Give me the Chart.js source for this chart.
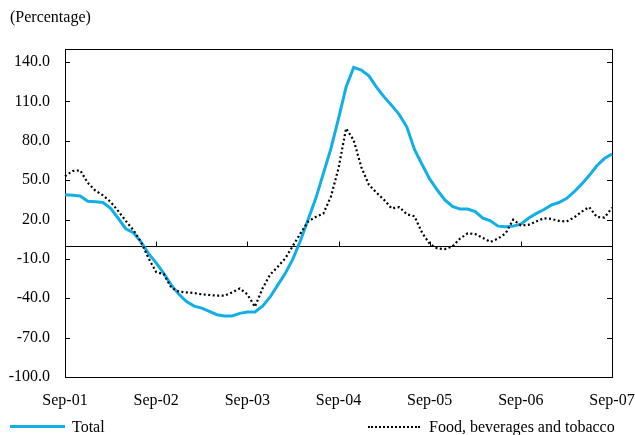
<!DOCTYPE html>
<html>
<head>
<meta charset="utf-8">
<script src="https://cdn.jsdelivr.net/npm/chart.js@4.4.1/dist/chart.umd.min.js"></script>
<style>
  body { margin: 0; background: #fff; }
  #wrap { position: relative; width: 635px; height: 435px; font-family: "Liberation Serif", "Times New Roman", serif; color: #000; }
  #title { position: absolute; left: 10px; top: 8px; font-size: 16px; line-height: 18px; }
  .swatch { position: absolute; }
  .lbl { position: absolute; font-size: 16px; line-height: 18px; top: 418px; white-space: nowrap; }
</style>
</head>
<body>
<div id="wrap">
  <canvas id="chart" width="635" height="435"></canvas>
  <div id="title">(Percentage)</div>
  <div class="swatch" style="left:10px; top:425px; width:55px; height:3px; background:#12AEE8;"></div>
  <div class="lbl" style="left:72px;">Total</div>
  <div class="swatch" style="left:368px; top:426px; width:52px; height:0; border-top:2px dotted #000;"></div>
  <div class="lbl" style="left:429px;">Food, beverages and tobacco</div>
</div>
<script>
// month labels Sep-01 .. Sep-07
const monthNames = ["Jan", "Feb", "Mar", "Apr", "May", "Jun", "Jul", "Aug", "Sep", "Oct", "Nov", "Dec"];
const categories = [];
for (let i = 0; i < 73; i++) {
  const m = (8 + i) % 12;
  const yr = 1 + Math.floor((8 + i) / 12);
  categories.push(monthNames[m] + "-" + String(yr).padStart(2, "0"));
}

const xTickLabels = ["Sep-01", "Sep-02", "Sep-03", "Sep-04", "Sep-05", "Sep-06", "Sep-07"];
const yTicks = [-100, -70, -40, -10, 20, 50, 80, 110, 140];

const totalValues = [
  39, 38.5, 38, 34, 33.5, 33, 28.5, 21, 13, 10, 3, -6,
  -13, -21, -30, -37, -42.5, -46, -47.5, -50, -52.5, -53.5, -53.5, -51.5,
  -50.5, -50.5, -46, -39, -30, -21, -10, 4, 20, 36, 55, 74,
  97, 121, 136, 134, 129.5, 121, 113.5, 107, 100, 90.5, 73.5, 62,
  51, 42.5, 35, 30, 28, 28, 26, 21, 19, 15, 14.5, 15,
  16.5, 21, 24.5, 27.5, 31, 33, 36, 41, 47, 53.5, 61, 66.5,
  70
];

const foodValues = [
  53, 57, 57.5, 48, 42, 38.5, 33.5, 26.5, 19, 12, 3, -9.5,
  -20, -21.5, -32, -35, -35.5, -36, -37, -37.5, -38, -38, -35.5, -32.5,
  -37, -46.5, -32.5, -22, -16, -9.5, 0, 9.5, 18.5, 22, 24.5, 37.5,
  59, 89.5, 80.5, 60, 46.5, 40.5, 35, 28.5, 29.5, 24, 22.5, 10,
  1.5, -2, -2.5, -0.5, 5.5, 9.5, 9, 6, 3, 5.5, 9.5, 20,
  15.5, 16, 18.5, 21, 20.5, 19, 18.5, 21.5, 26, 29.5, 22, 21.5,
  29
];

// box, zero line and small inward ticks
const framePlugin = {
  id: "frame",
  beforeDatasetsDraw(chart) {
    const { ctx, chartArea: a, scales } = chart;
    const y0 = Math.round(scales.y.getPixelForValue(0)) + 0.5;
    ctx.save();
    ctx.lineWidth = 1;
    ctx.strokeStyle = "#000";
    ctx.strokeRect(Math.round(a.left) + 0.5, Math.round(a.top) + 0.5,
      Math.round(a.right - a.left), Math.round(a.bottom - a.top));
    ctx.beginPath();
    ctx.moveTo(a.left, y0);
    ctx.lineTo(a.right, y0);
    yTicks.forEach((v) => {
      const py = Math.round(scales.y.getPixelForValue(v)) + 0.5;
      ctx.moveTo(a.left, py);
      ctx.lineTo(a.left + 5, py);
      ctx.moveTo(a.right - 5, py);
      ctx.lineTo(a.right, py);
    });
    xTickLabels.forEach((lbl) => {
      const px = Math.round(scales.x.getPixelForValue(categories.indexOf(lbl))) + 0.5;
      ctx.moveTo(px, y0 - 5);
      ctx.lineTo(px, y0);
    });
    ctx.stroke();
    ctx.restore();
  },
};

const tickFont = { family: "'Liberation Serif', 'Times New Roman', serif", size: 16 };

new Chart(document.getElementById("chart").getContext("2d"), {
  type: "line",
  data: {
    labels: categories,
    datasets: [
      {
        label: "Food, beverages and tobacco",
        data: foodValues,
        borderColor: "#000",
        borderWidth: 2.2,
        borderDash: [2, 2.5],
        pointRadius: 0,
        tension: 0,
        fill: false,
      },
      {
        label: "Total",
        data: totalValues,
        borderColor: "#12AEE8",
        borderWidth: 3,
        pointRadius: 0,
        tension: 0,
        fill: false,
      },
    ],
  },
  options: {
    responsive: false,
    animation: false,
    layout: { padding: { left: 0, right: 23, top: 49, bottom: 18 } },
    plugins: {
      legend: { display: false },
      tooltip: { enabled: false },
    },
    scales: {
      x: {
        offset: false,
        grid: { display: false, drawTicks: false },
        border: { display: false },
        afterFit: (scale) => {
          scale.height = 40;
          scale.paddingLeft = 0;
          scale.paddingRight = 0;
        },
        ticks: {
          autoSkip: false,
          maxRotation: 0,
          padding: 14,
          color: "#000",
          font: tickFont,
          callback: function (value) {
            const lbl = this.getLabelForValue(value);
            return xTickLabels.includes(lbl) ? lbl : null;
          },
        },
      },
      y: {
        min: -100,
        max: 150,
        grid: { display: false, drawTicks: false },
        border: { display: false },
        afterFit: (scale) => { scale.width = 65; },
        afterBuildTicks: (scale) => {
          scale.ticks = yTicks.map((v) => ({ value: v }));
        },
        ticks: {
          padding: 15,
          color: "#000",
          font: tickFont,
          callback: (v) => v.toFixed(1),
        },
      },
    },
  },
  plugins: [framePlugin],
});
</script>
</body>
</html>
